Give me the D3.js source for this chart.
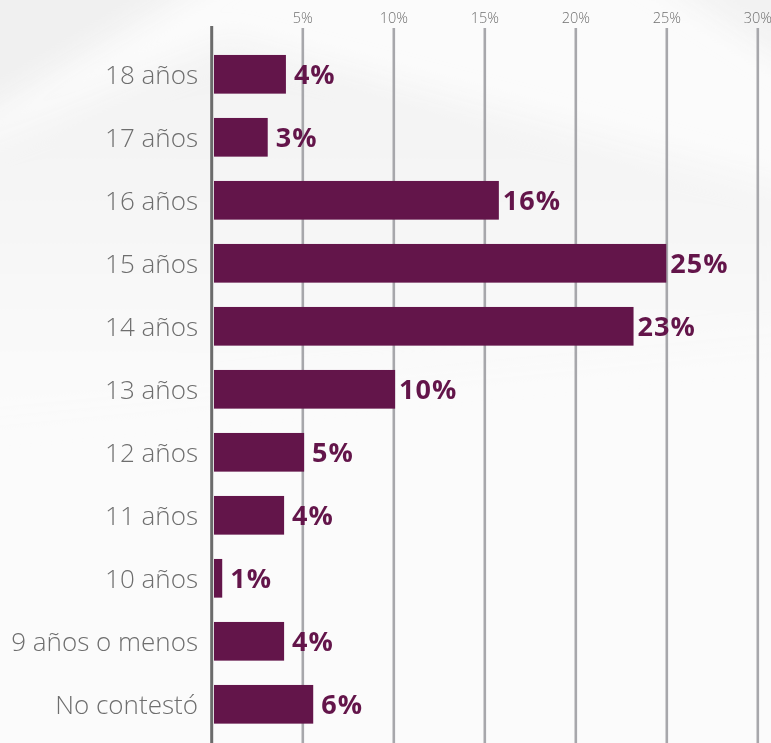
<!DOCTYPE html>
<html>
<head>
<meta charset="utf-8">
<script src="https://cdn.jsdelivr.net/npm/d3@7"></script>
<style>
  html, body { margin: 0; padding: 0; background: #fbfbfb; }
  svg { display: block; }
</style>
</head>
<body>
<svg id="chart" width="771" height="743"></svg>
<script>
const categories = ["18 años", "17 años", "16 años", "15 años", "14 años", "13 años", "12 años", "11 años", "10 años", "9 años o menos", "No contestó"];
const values = [4.1, 3.1, 15.8, 25.0, 23.2, 10.1, 5.1, 4.0, 0.6, 4.0, 5.6];
const valueLabels = ["4%", "3%", "16%", "25%", "23%", "10%", "5%", "4%", "1%", "4%", "6%"];
const tickValues = [5, 10, 15, 20, 25, 30];
const tickLabels = ["5%", "10%", "15%", "20%", "25%", "30%"];

const W = 771, H = 743;
const svg = d3.select("#chart");

// subtle, soft background decoration
const defs = svg.append("defs");
defs.append("filter").attr("id", "soft").attr("x", "-20%").attr("y", "-20%").attr("width", "140%").attr("height", "140%")
  .append("feGaussianBlur").attr("stdDeviation", 14);
const g2 = defs.append("linearGradient").attr("id", "bgB").attr("x1", 0).attr("y1", 0).attr("x2", 0).attr("y2", 1);
g2.append("stop").attr("offset", 0).attr("stop-color", "#f0f0f0");
g2.append("stop").attr("offset", 1).attr("stop-color", "#fbfbfb");
svg.append("rect").attr("width", W).attr("height", H).attr("fill", "#fbfbfb");
const deco = svg.append("g").attr("filter", "url(#soft)");
deco.append("polygon").attr("points", "-40,-40 240,-40 -40,130").attr("fill", "#f0f0f0");
deco.append("polygon").attr("points", "-40,150 230,40 800,190 800,340 -40,420").attr("fill", "url(#bgB)").attr("opacity", 0.8);
deco.append("polygon").attr("points", "630,-40 800,-40 800,70").attr("fill", "#f2f2f2");

const x = d3.scaleLinear().domain([0, 30]).range([211.3, 757.3]);
const y = d3.scaleBand().domain(categories).range([42.8, 735.8]).paddingInner(0.386).paddingOuter(0.193);

// grid + top tick labels
const axis = d3.axisTop(x).tickValues(tickValues).tickFormat((d, i) => tickLabels[i]).tickSize(-(H - 28)).tickPadding(5);
const ax = svg.append("g").attr("transform", "translate(0,28)").call(axis);
ax.select(".domain").remove();
ax.selectAll(".tick line").attr("stroke", "#a7a7ab").attr("stroke-width", 2.6);
ax.selectAll(".tick text").attr("fill", "#707070").attr("font-family", "'Open Sans', Lato, sans-serif").attr("font-weight", 300).attr("font-size", 14.5);

// bars
svg.append("g").selectAll("rect").data(values).join("rect")
  .attr("x", x(0) + 2.7)
  .attr("y", (d, i) => y(categories[i]))
  .attr("width", d => x(d) - x(0) - 2.7)
  .attr("height", y.bandwidth())
  .attr("fill", "#63154a");

// value axis line
svg.append("line").attr("x1", 211.7).attr("x2", 211.7).attr("y1", 26).attr("y2", H)
  .attr("stroke", "#6b6b6b").attr("stroke-width", 3);

// category labels
svg.append("g").selectAll("text").data(categories).join("text")
  .attr("x", 198)
  .attr("y", d => y(d) + y.bandwidth() / 2)
  .attr("dy", "0.36em")
  .attr("text-anchor", "end")
  .attr("fill", "#6e6e6e")
  .attr("font-family", "'Open Sans', Lato, sans-serif")
  .attr("font-weight", 300)
  .attr("font-size", 26)
  .text(d => d);

// value labels
svg.append("g").selectAll("text").data(values).join("text")
  .attr("x", (d, i) => x(d) + (valueLabels[i].length > 2 ? 4 : 8))
  .attr("y", (d, i) => y(categories[i]) + y.bandwidth() / 2)
  .attr("dy", "0.36em")
  .attr("fill", "#63154a")
  .attr("font-family", "'Open Sans', Lato, sans-serif")
  .attr("font-weight", 700)
  .attr("font-size", 27)
  .attr("letter-spacing", 1)
  .text((d, i) => valueLabels[i]);
</script>
</body>
</html>
